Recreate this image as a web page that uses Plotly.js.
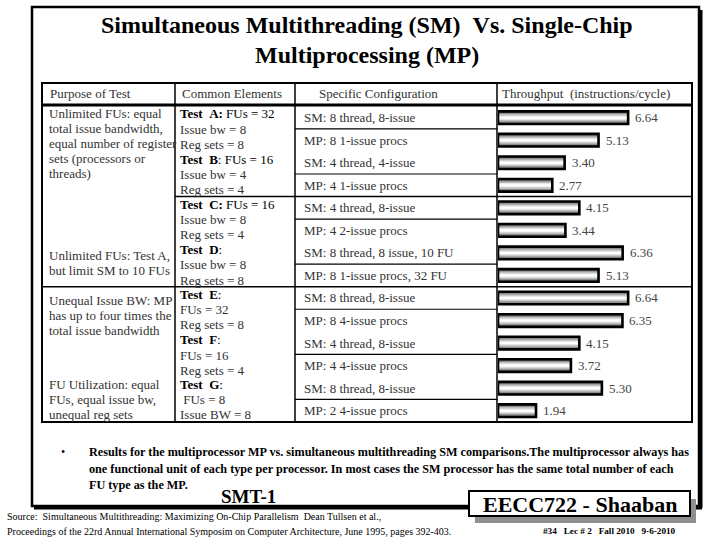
<!DOCTYPE html>
<html><head><meta charset="utf-8">
<script src="https://cdn.plot.ly/plotly-3.0.1.min.js"></script>
<style>html,body{margin:0;padding:0;background:#fff}#chart{width:720px;height:540px}</style>
</head><body><div id="chart"></div>
<script>
// ---------- data ----------
const titleLines = ["Simultaneous Multithreading (SM)\u00a0\u00a0Vs. Single-Chip", "Multiprocessing (MP)"];
const headers = ["Purpose of Test", "Common Elements", "Specific Configuration", "Throughput\u00a0\u00a0(instructions/cycle)"];
const configurations = [
  "SM: 8 thread, 8-issue", "MP: 8 1-issue procs",
  "SM: 4 thread, 4-issue", "MP: 4 1-issue procs",
  "SM: 4 thread, 8-issue", "MP: 4 2-issue procs",
  "SM: 8 thread, 8 issue, 10 FU", "MP: 8 1-issue procs, 32 FU",
  "SM: 8 thread, 8-issue", "MP: 8 4-issue procs",
  "SM: 4 thread, 8-issue", "MP: 4 4-issue procs",
  "SM: 8 thread, 8-issue", "MP: 2 4-issue procs"
];
const throughput = [6.64, 5.13, 3.40, 2.77, 4.15, 3.44, 6.36, 5.13, 6.64, 6.35, 4.15, 3.72, 5.30, 1.94];
const throughputLabels = ["6.64", "5.13", "3.40", "2.77", "4.15", "3.44", "6.36", "5.13", "6.64", "6.35", "4.15", "3.72", "5.30", "1.94"];
const commonAB = ["<b>Test\u00a0\u00a0A:</b> FUs = 32", "Issue bw = 8", "Reg sets = 8", "<b>Test\u00a0\u00a0B</b>: FUs = 16", "Issue bw = 4", "Reg sets = 4"];
const commonCD = ["<b>Test\u00a0\u00a0C:</b> FUs = 16", "Issue bw = 8", "Reg sets = 4", "<b>Test\u00a0\u00a0D</b>:", "Issue bw = 8", "Reg sets = 8"];
const commonEF = ["<b>Test\u00a0\u00a0E</b>:", "FUs = 32", "Reg sets = 8", "<b>Test\u00a0\u00a0F</b>:", "FUs = 16", "Reg sets = 4"];
const commonG  = ["<b>Test\u00a0\u00a0G</b>:", "\u00a0FUs = 8", "Issue BW = 8"];
const purposeAB = ["Unlimited FUs: equal", "total issue bandwidth,", "equal number of register", "sets (processors or", "threads)"];
const purposeD  = ["Unlimited FUs: Test A,", "but limit SM to 10 FUs"];
const purposeEF = ["Unequal Issue BW: MP", "has up to four times the", "total issue bandwidth"];
const purposeG  = ["FU Utilization: equal", "FUs, equal issue bw,", "unequal reg sets"];
const bulletLines = [
  "Results for the multiprocessor MP vs. simultaneous multithreading SM comparisons.The multiprocessor always has",
  "one functional unit of each type per processor. In most cases the SM processor has the same total number of each",
  "FU type as the MP."
];
const slideTag = "SMT-1";
const courseTag = "EECC722 - Shaaban";
const lectureTag = "#34\u00a0\u00a0 Lec # 2\u00a0\u00a0 Fall 2010\u00a0\u00a0 9-6-2010";
const sourceLines = [
  "Source:\u00a0 Simultaneous Multithreading: Maximizing On-Chip Parallelism\u00a0 Dean Tullsen et al.,",
  "Proceedings of the 22rd Annual International Symposim on Computer Architecture, June 1995, pages 392-403."
];

// ---------- layout helpers ----------
const W = 720, H = 540;
const X = px => px / W;
const Y = px => 1 - px / H;
const SERIF = '"Liberation Serif", "Times New Roman", serif';
const rowTop = 106.4, rowH = 22.54, nRows = configurations.length;
const rows = configurations.map((_, i) => i);
const colX = [42, 175, 295, 497, 692];
const tableTop = 83, tableBottom = rowTop + nRows * rowH;
const lineGap = 15.2;

const shapes = [];
const ann = [];
function hline(x0, x1, y, w, yref) {
  shapes.push({type: 'line', xref: 'paper', yref: yref || 'paper', x0: X(x0), x1: X(x1),
    y0: yref ? y : Y(y), y1: yref ? y : Y(y), line: {color: '#000', width: w}});
}
function vline(x, y0, y1, w) {
  shapes.push({type: 'line', xref: 'paper', yref: 'paper', x0: X(x), x1: X(x), y0: Y(y0), y1: Y(y1), line: {color: '#000', width: w}});
}
function text(t, x, y, opts) {
  ann.push(Object.assign({text: t, xref: 'paper', yref: 'paper', x: X(x), y: Y(y), xanchor: 'left', yanchor: 'middle',
    showarrow: false, font: {family: SERIF, size: 13, color: '#333'}}, opts || {}));
}

// slide frame with shadow
shapes.push({type: 'rect', xref: 'paper', yref: 'paper', x0: X(32), x1: X(699), y0: Y(7), y1: Y(506), line: {color: '#000', width: 2.5}});
vline(701, 10, 508, 3);
hline(34, 702, 508, 3);

// table frame and grid
shapes.push({type: 'rect', xref: 'paper', yref: 'paper', x0: X(colX[0]), x1: X(colX[4]), y0: Y(tableTop), y1: Y(tableBottom), line: {color: '#000', width: 2}});
hline(colX[0], colX[4], 105, 3);
[1, 2, 3].forEach(k => vline(colX[k], tableTop, tableBottom, 1.5));
// section separators
hline(colX[1], colX[4], 3.5, 1.5, 'y');
hline(colX[0], colX[4], 7.5, 1.5, 'y');
// configuration row separators (SM rows)
rows.filter(i => i % 2 === 0).forEach(i => hline(colX[2], colX[3], i + 0.5, 1.2, 'y'));

// EECC722 box with shadow
shapes.push({type: 'rect', xref: 'paper', yref: 'paper', x0: X(475), x1: X(696), y0: Y(499), y1: Y(523), fillcolor: '#8f8f8f', line: {width: 0}});
shapes.push({type: 'rect', xref: 'paper', yref: 'paper', x0: X(469), x1: X(690), y0: Y(491), y1: Y(516), fillcolor: '#fff', line: {color: '#000', width: 2}});

// title
titleLines.forEach((t, k) => ann.push({text: '<b>' + t + '</b>', xref: 'paper', yref: 'paper', x: X(367), y: Y(25 + 30 * k),
  xanchor: 'center', yanchor: 'middle', showarrow: false, font: {family: SERIF, size: 24, color: '#000'}}));

// headers
const headerX = [48, 180, 317, 500];
headers.forEach((h, k) => text(h, headerX[k], 93));

// configuration column
configurations.forEach((c, i) => ann.push({text: c, xref: 'paper', yref: 'y', x: X(302), y: i, xanchor: 'left', yanchor: 'middle',
  showarrow: false, font: {family: SERIF, size: 13, color: '#333'}}));

// common elements column
const sectionTops = [0, 4, 8, 12].map(r => rowTop + r * rowH);
[commonAB, commonCD, commonEF, commonG].forEach((lines, s) => lines.forEach((t, k) =>
  text(t, 178, sectionTops[s] + 7.5 + k * lineGap, /<b>/.test(t) ? {font: {family: SERIF, size: 13, color: '#000'}} : {})));

// purpose column
const purposeStarts = [113, 255, 300, 384];
[purposeAB, purposeD, purposeEF, purposeG].forEach((lines, s) => lines.forEach((t, k) =>
  text(t, 47, purposeStarts[s] + k * lineGap)));

// throughput value labels
throughput.forEach((v, i) => ann.push({text: throughputLabels[i], xref: 'x', yref: 'y', x: v, y: i, xanchor: 'left', yanchor: 'middle',
  xshift: 5, showarrow: false, font: {family: SERIF, size: 13, color: '#444'}}));

// bullet text
text('\u2022', 59, 452, {font: {family: SERIF, size: 12, color: '#000'}});
bulletLines.forEach((t, k) => text('<b>' + t + '</b>', 87, 452 + k * 16.5, {font: {family: SERIF, size: 12.2, color: '#000'}}));
text('<b>' + slideTag + '</b>', 248, 496, {xanchor: 'center', font: {family: SERIF, size: 19, color: '#000'}});
text('<b>' + courseTag + '</b>', 580, 504, {xanchor: 'center', font: {family: SERIF, size: 22, color: '#000'}});
text('<b>' + lectureTag + '</b>', 609, 531, {xanchor: 'center', font: {family: SERIF, size: 9.2, color: '#000'}});
sourceLines.forEach((t, k) => text(t, 5, 516 + k * 15, {font: {family: SERIF, size: 10, color: '#000'}}));

// ---------- bars (cylinder shading by overlaid bars) ----------
const shades = [['#5e5e5e', 0.56], ['#8e8e8e', 0.44], ['#bdbdbd', 0.32], ['#e6e6e6', 0.2], ['#ffffff', 0.09]];
const traces = shades.map(([c, w]) => ({type: 'bar', orientation: 'h', x: throughput, y: rows, width: w,
  marker: {color: c, line: {width: 0}}, hoverinfo: 'skip', showlegend: false}));
traces.push({type: 'bar', orientation: 'h', x: throughput, y: rows, width: 0.56,
  marker: {color: 'rgba(0,0,0,0)', line: {color: '#000', width: 2.6}}, hoverinfo: 'skip', showlegend: false});

const layout = {
  width: W, height: H, margin: {l: 0, r: 0, t: 0, b: 0},
  paper_bgcolor: '#fff', plot_bgcolor: 'rgba(0,0,0,0)',
  barmode: 'overlay', showlegend: false,
  xaxis: {domain: [X(498), X(692)], range: [0, (692 - 498) / 19.6], visible: false, fixedrange: true},
  yaxis: {domain: [Y(tableBottom), Y(rowTop)], range: [nRows - 0.5, -0.5], visible: false, fixedrange: true},
  shapes: shapes, annotations: ann
};
Plotly.newPlot('chart', traces, layout, {staticPlot: true, displayModeBar: false});
</script></body></html>
